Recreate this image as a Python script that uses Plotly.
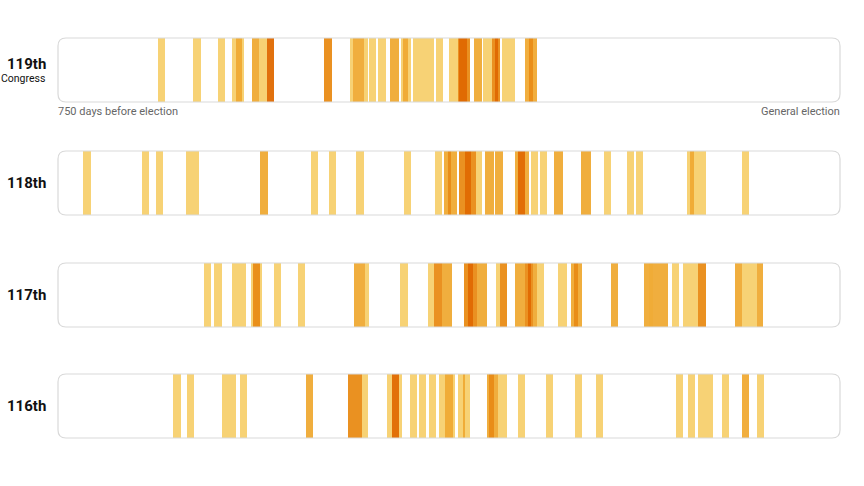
import plotly.graph_objects as go

# Days relative to the general election (negative = before); level = intensity 1..4
congresses = ["119th", "118th", "117th", "116th"]

c119_start = [-654, -621, -597, -583, -579, -564, -557, -550, -495, -470, -467, -457, -452, -443, -432,
              -421, -419, -410, -397, -387, -375, -366, -365, -351, -342, -334, -331, -324, -302, -298]
c119_end   = [-647, -613, -590, -572, -574, -557, -550, -543, -487, -467, -457, -453, -445, -435, -423,
              -411, -414, -397, -389, -381, -366, -355, -358, -343, -334, -326, -328, -312, -291, -294]
c119_level = [1, 1, 1, 1, 2, 2, 1, 4, 3, 1, 2, 1, 1, 1, 2,
              1, 2, 1, 1, 1, 1, 3, 4, 2, 1, 3, 4, 1, 2, 3]

c118_start = [-726, -669, -656, -627, -556, -507, -490, -464, -418, -388, -380, -376, -365, -360, -349,
              -340, -331, -312, -309, -296, -288, -274, -248, -226, -204, -196, -147, -144, -94]
c118_end   = [-718, -663, -649, -615, -549, -501, -483, -457, -411, -382, -367, -373, -349, -354, -343,
              -332, -323, -298, -302, -290, -281, -266, -239, -220, -198, -189, -129, -140, -87]
c118_level = [1, 1, 1, 1, 2, 1, 1, 1, 1, 1, 2, 3, 3, 4, 1,
              2, 2, 2, 4, 1, 1, 2, 2, 1, 1, 1, 1, 2, 1]

c117_start = [-610, -600, -583, -565, -563, -543, -520, -466, -456, -422, -395, -389, -382, -361, -357,
              -348, -330, -326, -312, -302, -299, -294, -291, -270, -258, -255, -220, -188, -183, -161,
              -151, -136, -101, -94, -80]
c117_end   = [-603, -593, -570, -554, -556, -536, -513, -456, -452, -414, -389, -382, -372, -348, -352,
              -339, -326, -319, -302, -294, -296, -291, -284, -262, -247, -251, -213, -165, -179, -154,
              -136, -129, -94, -80, -74]
c117_level = [1, 1, 1, 1, 3, 1, 1, 2, 1, 1, 1, 3, 2, 3, 4,
              2, 1, 3, 2, 3, 4, 2, 1, 1, 2, 3, 2, 2, 1, 1,
              1, 3, 2, 1, 2]

c116_start = [-640, -626, -593, -575, -512, -472, -458, -434, -430, -412, -404, -394, -385, -379, -366,
              -362, -339, -337, -328, -309, -282, -254, -234, -157, -146, -136, -113, -94, -80]
c116_end   = [-632, -620, -579, -569, -505, -458, -453, -420, -423, -406, -397, -387, -369, -371, -355,
              -360, -328, -332, -319, -302, -275, -247, -227, -151, -139, -122, -106, -87, -73]
c116_level = [1, 1, 1, 1, 2, 3, 1, 1, 4, 1, 1, 1, 1, 2, 1,
              2, 2, 3, 1, 1, 1, 1, 1, 1, 1, 1, 1, 2, 1]

rows = [
    (c119_start, c119_end, c119_level),
    (c118_start, c118_end, c118_level),
    (c117_start, c117_end, c117_level),
    (c116_start, c116_end, c116_level),
]

level_colors = {1: "#f7d06e", 2: "#f0aa34", 3: "#e98c16", 4: "#e06a02"}
x_range = [-750, 0]

# vertical placement of the four strips (paper fractions)
domains = [[0.84, 1.0], [0.5575, 0.7175], [0.2775, 0.4375], [0.0, 0.16]]

FONT = "Roboto, sans-serif"
fig = go.Figure()

for i, (starts, ends, levels) in enumerate(rows):
    yname = "y" if i == 0 else f"y{i+1}"
    for lvl in [1, 2, 3, 4]:
        idx = [k for k in range(len(starts)) if levels[k] == lvl]
        if not idx:
            continue
        xs = [(starts[k] + ends[k]) / 2 for k in idx]
        ws = [ends[k] - starts[k] for k in idx]
        fig.add_trace(go.Bar(
            x=xs, y=[1] * len(idx), width=ws, base=0,
            marker=dict(color=level_colors[lvl], line=dict(width=0)),
            opacity=0.95,
            xaxis="x", yaxis=yname, showlegend=False, hoverinfo="skip",
        ))

layout = dict(
    width=864, height=486,
    margin=dict(l=58, r=24, t=38, b=48),
    paper_bgcolor="white", plot_bgcolor="rgba(0,0,0,0)",
    barmode="overlay", bargap=0,
    xaxis=dict(range=x_range, visible=False, fixedrange=True),
    showlegend=False,
)
for i, dom in enumerate(domains):
    key = "yaxis" if i == 0 else f"yaxis{i+1}"
    layout[key] = dict(domain=dom, range=[0, 1], visible=False, fixedrange=True,
                       anchor="x")
fig.update_layout(**layout)

# rounded frames
W, H = 782.0, 64.0
r = 8.0
shapes = []
for dom in domains:
    y0, y1 = dom
    rx = r / W
    ry = r / H * (y1 - y0)
    x0, x1 = 0.0, 1.0
    path = (f"M {x0+rx},{y0} L {x1-rx},{y0} Q {x1},{y0} {x1},{y0+ry} "
            f"L {x1},{y1-ry} Q {x1},{y1} {x1-rx},{y1} L {x0+rx},{y1} "
            f"Q {x0},{y1} {x0},{y1-ry} L {x0},{y0+ry} Q {x0},{y0} {x0+rx},{y0} Z")
    shapes.append(dict(type="path", xref="paper", yref="paper", path=path,
                       line=dict(color="#d9d9d9", width=1.2), fillcolor="rgba(0,0,0,0)",
                       layer="above"))
fig.update_layout(shapes=shapes)

annotations = []
for i, (name, dom) in enumerate(zip(congresses, domains)):
    yc = (dom[0] + dom[1]) / 2
    if i == 0:
        annotations.append(dict(x=0, y=yc, xref="paper", yref="paper", text=f"<b>{name}</b>",
                                xanchor="right", yanchor="middle", xshift=-10, yshift=6,
                                showarrow=False, font=dict(family=FONT, size=15, color="#111111")))
        annotations.append(dict(x=0, y=yc, xref="paper", yref="paper", text="Congress",
                                xanchor="right", yanchor="middle", xshift=-11, yshift=-8,
                                showarrow=False, font=dict(family=FONT, size=10.5, color="#111111")))
    else:
        annotations.append(dict(x=0, y=yc, xref="paper", yref="paper", text=f"<b>{name}</b>",
                                xanchor="right", yanchor="middle", xshift=-10, yshift=0,
                                showarrow=False, font=dict(family=FONT, size=15, color="#111111")))

annotations.append(dict(x=0, y=domains[0][0], xref="paper", yref="paper",
                        text="750 days before election", xanchor="left", yanchor="top",
                        yshift=-1, xshift=-2, showarrow=False,
                        font=dict(family=FONT, size=11, color="#666666")))
annotations.append(dict(x=1, y=domains[0][0], xref="paper", yref="paper",
                        text="General election", xanchor="right", yanchor="top",
                        yshift=-1, xshift=2, showarrow=False,
                        font=dict(family=FONT, size=11, color="#666666")))
fig.update_layout(annotations=annotations)

# remove the browser's default 8px body margin so the figure sits at the window origin
fig.write_html("out.html", config={"displayModeBar": False},
               post_script="document.body.style.margin='0';")
